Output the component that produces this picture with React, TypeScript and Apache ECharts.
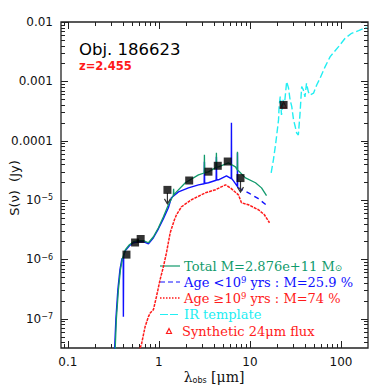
import React, { useEffect, useRef } from 'react';
import * as echarts from 'echarts';

// Axis extents and tick labels
const xMin = 0.084;
const xMax = 198;
const yMin = 3.2e-8;
const yMax = 0.01;
const xTickValues = [0.1, 1, 10, 100];
const xTickLabels = ['0.1', '1', '10', '100'];
const yTickValues = [0.01, 0.001, 0.0001, 1e-5, 1e-6, 1e-7];
const yTickLabels = ['0.01', '0.001', '0.0001', '10{sup|−5}', '10{sup|−6}', '10{sup|−7}'];

// Photometry (black squares)
const photLambda = [0.44, 0.547, 0.63, 1.24, 2.15, 3.5, 4.43, 5.7, 7.87, 23.4];
const photFlux = [1.2e-6, 1.92e-6, 2.2e-6, 1.48e-5, 2.13e-5, 3.0e-5, 3.77e-5, 4.45e-5, 2.34e-5, 4.0e-4];

// Upper-limit arrows
const limitLambda = [1.24, 7.87];
const limitFlux = [1.48e-5, 2.34e-5];

// Synthetic 24 micron flux
const synthLambda = [23.4];
const synthFlux = [4.0e-4];

// Total model (green)
const totalLambda = [0.329, 0.341, 0.359, 0.378, 0.397, 0.428, 0.474, 0.525, 0.596, 0.676, 0.767, 0.870, 0.987, 1.12, 1.27, 1.44, 1.45, 1.46, 1.52, 1.95, 2.72, 3.14, 3.16, 3.18, 3.50, 4.25, 4.28, 4.31, 4.51, 5.80, 6.93, 7.26, 7.29, 7.32, 8.93, 11.5, 13.4, 15.2];
const totalFlux = [2.5e-8, 1.0e-7, 3.08e-7, 6.68e-7, 1.02e-6, 1.45e-6, 1.76e-6, 1.98e-6, 2.06e-6, 2.06e-6, 1.90e-6, 2.40e-6, 3.40e-6, 5.21e-6, 8.30e-6, 1.20e-5, 1.55e-5, 1.22e-5, 1.32e-5, 1.95e-5, 2.65e-5, 2.85e-5, 5.77e-5, 2.88e-5, 2.98e-5, 3.55e-5, 6.23e-5, 3.57e-5, 3.62e-5, 4.23e-5, 3.62e-5, 3.2e-5, 6.48e-5, 3.2e-5, 2.36e-5, 1.95e-5, 1.60e-5, 1.18e-5];

// Young population (blue): solid part and dashed tail
const youngLambda = [0.324, 0.337, 0.354, 0.373, 0.392, 0.405, 0.407, 0.410, 0.428, 0.474, 0.525, 0.596, 0.676, 0.767, 0.870, 0.987, 1.12, 1.27, 1.37, 1.64, 2.11, 2.72, 3.14, 3.16, 3.18, 3.50, 4.25, 4.28, 4.31, 4.51, 5.52, 6.23, 6.26, 6.29, 6.59, 7.26, 7.29, 7.32, 7.47];
const youngFlux = [2.5e-8, 1.0e-7, 3.08e-7, 6.68e-7, 1.02e-6, 1.06e-6, 1.08e-7, 1.15e-6, 1.40e-6, 1.69e-6, 1.90e-6, 1.98e-6, 1.98e-6, 1.83e-6, 2.31e-6, 3.27e-6, 4.83e-6, 7.39e-6, 1.09e-5, 1.37e-5, 1.60e-5, 1.80e-5, 1.88e-5, 4.4e-5, 1.9e-5, 1.95e-5, 2.15e-5, 5.33e-5, 2.17e-5, 2.19e-5, 2.55e-5, 2.3e-5, 2.0e-4, 2.3e-5, 2.10e-5, 1.7e-5, 6.23e-5, 1.65e-5, 1.60e-5];
const youngTailLambda = [7.47, 9.63, 12.4, 16.0];
const youngTailFlux = [1.60e-5, 1.32e-5, 1.05e-5, 7.69e-6];

// Old population (red)
const oldLambda = [0.596, 0.642, 0.705, 0.767, 0.807, 0.870, 0.939, 1.03, 1.12, 1.21, 1.33, 1.48, 1.56, 1.77, 2.28, 3.24, 4.18, 5.38, 6.10, 7.47, 8.07, 9.63, 12.4, 14.4, 16.4];
const oldFlux = [2.78e-8, 3.65e-8, 7.33e-8, 1.08e-7, 1.26e-7, 1.42e-7, 2.34e-7, 4.54e-7, 7.5e-7, 1.29e-6, 2.81e-6, 4.64e-6, 5.64e-6, 7.69e-6, 1.01e-5, 1.32e-5, 1.49e-5, 1.80e-5, 1.60e-5, 1.22e-5, 8.97e-6, 8.30e-6, 6.84e-6, 5.64e-6, 4.13e-6];

// IR template (cyan)
const irLambda = [17.1, 18.1, 19.2, 20.6, 20.9, 21.5, 22.2, 23.0, 23.9, 25.3, 26.5, 27.6, 28.8, 30.1, 31.4, 32.6, 34.0, 35.4, 37.0, 38.6, 40.2, 41.8, 43.8, 45.7, 49.9, 54.1, 58.9, 67.0, 76.1, 94.0, 111, 131, 156, 191];
const irFlux = [2.87e-5, 4.75e-5, 9.08e-5, 2.24e-4, 3.75e-4, 5.53e-4, 2.72e-4, 4.86e-4, 4.01e-4, 9.89e-4, 7.74e-4, 4.86e-4, 3.75e-4, 2.24e-4, 1.73e-4, 1.34e-4, 1.25e-4, 2.72e-4, 8.15e-4, 7.16e-4, 5.46e-4, 9.29e-4, 6.63e-4, 5.90e-4, 6.31e-4, 8.69e-4, 1.13e-3, 1.77e-3, 2.61e-3, 3.84e-3, 5.32e-3, 6.45e-3, 7.14e-3, 8.14e-3];

// Legend entries
const legendTexts = [
  'Total M=2.876e+11 M{sub|⊙}',
  'Age <10{sup|9} yrs : M=25.9 %',
  'Age ≥10{sup|9} yrs : M=74 %',
  'IR template',
  'Synthetic 24μm flux',
];

const GREEN = '#119a6c';
const BLUE = '#1010ff';
const RED = '#ff1a1a';
const CYAN = '#22eef2';
const SANS = 'DejaVu Sans';
const SERIF = 'DejaVu Serif';

const zip = (a: number[], b: number[]) => a.map((v, i) => [v, b[i]]);

const matchIndex = (vals: number[], v: number) =>
  vals.findIndex((t) => Math.abs(Math.log10(t) - Math.log10(v)) < 0.005);

export default function App() {
  const ref = useRef<HTMLDivElement>(null);
  useEffect(() => {
    if (!ref.current) return;
    const chart = echarts.init(ref.current, undefined, { renderer: 'svg' });

    const decades = [-8, -7, -6, -5, -4, -3, -2, -1, 0, 1, 2];

    const ticksRender = (params: any, api: any) => {
      const cs = params.coordSys;
      const left = cs.x, right = cs.x + cs.width, top = cs.y, bottom = cs.y + cs.height;
      const children: any[] = [];
      const ln = (x1: number, y1: number, x2: number, y2: number) =>
        children.push({ type: 'line', shape: { x1, y1, x2, y2 }, style: { stroke: '#222', lineWidth: 1 } });
      decades.forEach((d) => {
        for (let k = 1; k <= 9; k++) {
          const v = k * Math.pow(10, d);
          const len = k === 1 ? 7 : 4;
          if (v >= xMin && v <= xMax) {
            const px = Math.round(api.coord([v, 1e-5])[0]) + 0.5;
            ln(px, bottom, px, bottom - len);
            ln(px, top, px, top + len);
          }
          if (v >= yMin && v <= yMax) {
            const py = Math.round(api.coord([1, v])[1]) + 0.5;
            ln(left, py, left + len, py);
            ln(right, py, right - len, py);
          }
        }
      });
      return { type: 'group', children };
    };

    const arrowRender = (params: any, api: any) => {
      const p = api.coord([api.value(0), api.value(1)]);
      return {
        type: 'group',
        children: [
          { type: 'line', shape: { x1: p[0], y1: p[1] + 3, x2: p[0], y2: p[1] + 14 }, style: { stroke: '#333', lineWidth: 1.2 } },
          { type: 'polyline', shape: { points: [[p[0] - 3, p[1] + 9], [p[0], p[1] + 14], [p[0] + 3, p[1] + 9]] }, style: { stroke: '#333', fill: 'none', lineWidth: 1.2 } },
        ],
      };
    };

    const legendColors = [GREEN, BLUE, RED, CYAN, RED];
    const legendY = [266, 282, 298, 314.5, 331];
    const legendGraphics: any[] = [];
    legendTexts.forEach((t, i) => {
      if (i < 4) {
        const dash = i === 1 ? [5, 3] : i === 2 ? [1.5, 1.5] : i === 3 ? [8, 2] : undefined;
        legendGraphics.push({
          type: 'line',
          shape: { x1: 160, y1: legendY[i], x2: 180, y2: legendY[i] },
          style: { stroke: legendColors[i], lineWidth: i === 2 ? 1.5 : 1.2, lineDash: dash },
        });
      } else {
        legendGraphics.push({
          type: 'polygon',
          shape: { points: [[166.5, legendY[i] + 2.5], [171.5, legendY[i] + 2.5], [169, legendY[i] - 2.5]] },
          style: { stroke: RED, fill: 'none', lineWidth: 1.2 },
        });
      }
      legendGraphics.push({
        type: 'text',
        x: i === 4 ? 182 : 184,
        y: legendY[i],
        style: {
          text: t,
          fill: legendColors[i],
          fontFamily: SERIF,
          fontSize: 13,
          verticalAlign: 'middle',
          align: 'left',
          rich: {
            sup: { fontSize: 8.5, fontFamily: SERIF, fill: legendColors[i], verticalAlign: 'top', lineHeight: 9 },
            sub: { fontSize: 9, fontFamily: SERIF, fill: legendColors[i], verticalAlign: 'bottom', lineHeight: 6 },
          },
        },
      });
    });

    chart.setOption({
      animation: false,
      grid: { left: 61, right: 22, top: 22, bottom: 42, show: true, borderColor: '#222', borderWidth: 1.3, backgroundColor: 'transparent' },
      xAxis: {
        type: 'log',
        logBase: 10,
        min: xMin,
        max: xMax,
        axisLine: { show: false },
        axisTick: { show: false },
        splitLine: { show: false },
        axisLabel: {
          margin: 8,
          fontFamily: SANS,
          fontSize: 12,
          color: '#111',
          showMinLabel: false,
          showMaxLabel: false,
          formatter: (v: number) => {
            const i = matchIndex(xTickValues, v);
            return i >= 0 ? xTickLabels[i] : '';
          },
        },
      },
      yAxis: {
        type: 'log',
        logBase: 10,
        min: yMin,
        max: yMax,
        axisLine: { show: false },
        axisTick: { show: false },
        splitLine: { show: false },
        axisLabel: {
          margin: 8,
          fontFamily: SANS,
          fontSize: 12,
          color: '#111',
          showMinLabel: false,
          formatter: (v: number) => {
            const i = matchIndex(yTickValues, v);
            return i >= 0 ? yTickLabels[i] : '';
          },
          rich: {
            sup: { fontSize: 8, fontFamily: SANS, color: '#111', verticalAlign: 'top', lineHeight: 10 },
          },
        },
      },
      series: [
        { type: 'custom', renderItem: ticksRender, data: [[1, 1e-5]], silent: true, z: 1 },
        {
          type: 'line', data: zip(oldLambda, oldFlux), symbol: 'none', clip: true,
          lineStyle: { color: RED, width: 1.5, type: [3, 1] }, z: 2,
        },
        {
          type: 'line', data: zip(youngLambda, youngFlux), symbol: 'none', clip: true,
          lineStyle: { color: BLUE, width: 1.4 }, z: 3,
        },
        {
          type: 'line', data: zip(youngTailLambda, youngTailFlux), symbol: 'none', clip: true,
          lineStyle: { color: BLUE, width: 1.4, type: [5, 4] }, z: 3,
        },
        {
          type: 'line', data: zip(totalLambda, totalFlux), symbol: 'none', clip: true,
          lineStyle: { color: GREEN, width: 1.3 }, z: 4,
        },
        {
          type: 'line', data: zip(irLambda, irFlux), symbol: 'none', clip: true,
          lineStyle: { color: CYAN, width: 1.4, type: [7, 3] }, z: 4,
        },
        {
          type: 'scatter', data: zip(synthLambda, synthFlux), symbol: 'triangle', symbolSize: 6,
          itemStyle: { color: 'none', borderColor: RED, borderWidth: 1 }, z: 5,
        },
        {
          type: 'scatter', data: zip(photLambda, photFlux), symbol: 'rect', symbolSize: 8,
          itemStyle: { color: '#000' }, z: 6,
        },
        { type: 'custom', renderItem: arrowRender, data: zip(limitLambda, limitFlux), z: 6 },
      ],
      graphic: [
        {
          type: 'text', x: 79, y: 49,
          style: { text: 'Obj. 186623', fontFamily: SANS, fontSize: 16.5, fill: '#000', verticalAlign: 'middle' },
        },
        {
          type: 'text', x: 79, y: 66,
          style: { text: 'z=2.455', fontFamily: SANS, fontSize: 11.5, fontWeight: 'bold', fill: RED, verticalAlign: 'middle' },
        },
        {
          type: 'text', x: 14, y: 188, rotation: Math.PI / 2,
          style: { text: 'S(ν)  (Jy)', fontFamily: SANS, fontSize: 13, fill: '#111', align: 'center', verticalAlign: 'middle' },
        },
        {
          type: 'text', x: 214, y: 377,
          style: {
            text: 'λ{sub|obs} [μm]', fontFamily: SERIF, fontSize: 14, fill: '#111', align: 'center', verticalAlign: 'middle',
            rich: { sub: { fontSize: 8, fontFamily: SANS, fill: '#111', verticalAlign: 'bottom', lineHeight: 6 } },
          },
        },
        ...legendGraphics,
      ],
    });
    return () => chart.dispose();
  }, []);
  return <div ref={ref} style={{ position: 'fixed', left: 0, top: 0, width: 390, height: 390, background: '#fff' }} />;
}
